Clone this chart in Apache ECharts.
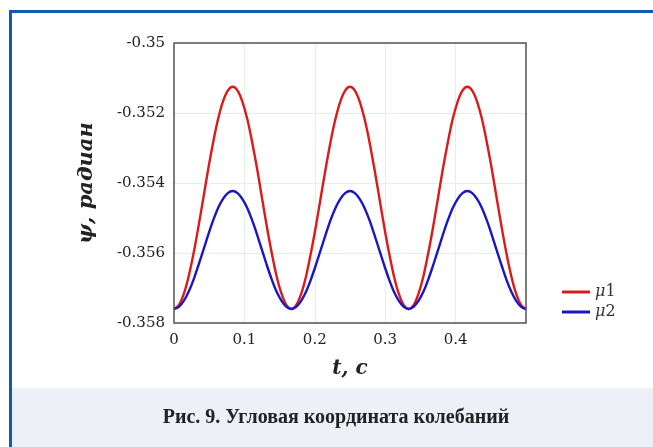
<!DOCTYPE html>
<html>
<head>
  <meta charset="UTF-8">
  <script src="https://cdn.jsdelivr.net/npm/echarts@6/dist/echarts.min.js"></script>
  <title></title>
  <style>
    html, body { margin: 0; padding: 0; background: #fff; }
    #chart { width: 653px; height: 447px; }
  </style>
</head>
<body>
  <div id="chart"></div>
  <script>
    // time, s
    var tValues = [0, 0.0069, 0.0139, 0.0208, 0.0278, 0.0347, 0.0417, 0.0486, 0.0556, 0.0625, 0.0694, 0.0764, 0.0833, 0.0903, 0.0972, 0.1042, 0.1111, 0.1181, 0.125, 0.1319, 0.1389, 0.1458, 0.1528, 0.1597, 0.1667,
      0.1736, 0.1806, 0.1875, 0.1944, 0.2014, 0.2083, 0.2153, 0.2222, 0.2292, 0.2361, 0.2431, 0.25, 0.2569, 0.2639, 0.2708, 0.2778, 0.2847, 0.2917, 0.2986, 0.3056, 0.3125, 0.3194, 0.3264, 0.3333,
      0.3403, 0.3472, 0.3542, 0.3611, 0.3681, 0.375, 0.3819, 0.3889, 0.3958, 0.4028, 0.4097, 0.4167, 0.4236, 0.4306, 0.4375, 0.4444, 0.4514, 0.4583, 0.4653, 0.4722, 0.4792, 0.4861, 0.4931, 0.5];
    // psi, rad
    var mu1 = [-0.35760, -0.35749, -0.35717, -0.35667, -0.35601, -0.35525, -0.35443, -0.35360, -0.35284, -0.35218, -0.35168, -0.35136,
      -0.35125, -0.35136, -0.35168, -0.35218, -0.35284, -0.35360, -0.35443, -0.35525, -0.35601, -0.35667, -0.35717, -0.35749,
      -0.35760, -0.35749, -0.35717, -0.35667, -0.35601, -0.35525, -0.35443, -0.35360, -0.35284, -0.35218, -0.35168, -0.35136,
      -0.35125, -0.35136, -0.35168, -0.35218, -0.35284, -0.35360, -0.35443, -0.35525, -0.35601, -0.35667, -0.35717, -0.35749,
      -0.35760, -0.35749, -0.35717, -0.35667, -0.35601, -0.35525, -0.35443, -0.35360, -0.35284, -0.35218, -0.35168, -0.35136,
      -0.35125, -0.35136, -0.35168, -0.35218, -0.35284, -0.35360, -0.35443, -0.35525, -0.35601, -0.35667, -0.35717, -0.35749,
      -0.35760];
    var mu2 = [-0.35760, -0.35754, -0.35737, -0.35711, -0.35676, -0.35635, -0.35592, -0.35548, -0.35507, -0.35472, -0.35446, -0.35429,
      -0.35423, -0.35429, -0.35446, -0.35472, -0.35507, -0.35548, -0.35592, -0.35635, -0.35676, -0.35711, -0.35737, -0.35754,
      -0.35760, -0.35754, -0.35737, -0.35711, -0.35676, -0.35635, -0.35592, -0.35548, -0.35507, -0.35472, -0.35446, -0.35429,
      -0.35423, -0.35429, -0.35446, -0.35472, -0.35507, -0.35548, -0.35592, -0.35635, -0.35676, -0.35711, -0.35737, -0.35754,
      -0.35760, -0.35754, -0.35737, -0.35711, -0.35676, -0.35635, -0.35592, -0.35548, -0.35507, -0.35472, -0.35446, -0.35429,
      -0.35423, -0.35429, -0.35446, -0.35472, -0.35507, -0.35548, -0.35592, -0.35635, -0.35676, -0.35711, -0.35737, -0.35754,
      -0.35760];
    var seriesNames = ['μ1', 'μ2'];
    var caption = 'Рис. 9. Угловая координата колебаний';

    function pairs(ys) {
      var out = [];
      for (var i = 0; i < tValues.length; i++) out.push([tValues[i], ys[i]]);
      return out;
    }

    var serif = 'DejaVu Serif';
    var chart = echarts.init(document.getElementById('chart'));
    chart.setOption({
      animation: false,
      backgroundColor: '#fff',
      graphic: [
        { type: 'rect', shape: { x: 12, y: 388, width: 641, height: 59 }, style: { fill: '#eef0f7' }, silent: true },
        { type: 'rect', shape: { x: 10.5, y: 11.5, width: 660, height: 460 }, style: { fill: null, stroke: '#0b5db3', lineWidth: 3 }, silent: true },
        { type: 'rect', z: 100, shape: { x: 174, y: 43, width: 352, height: 280 }, style: { fill: null, stroke: '#555', lineWidth: 1.5 }, silent: true },
        { type: 'text', x: 336, y: 418, style: { text: caption, fill: '#222', font: 'bold 20px "Liberation Serif"', align: 'center', verticalAlign: 'middle' } }
      ],
      grid: { left: 174, top: 43, right: 127, bottom: 124 },
      legend: {
        orient: 'vertical', left: 557, top: 279, itemWidth: 28, itemHeight: 3, itemGap: 4,
        icon: 'rect',
        data: seriesNames,
        formatter: function (n) { return '{i|μ}{n|' + n.slice(1) + '}'; },
        textStyle: {
          color: '#333', fontFamily: serif, fontSize: 16,
          rich: { i: { fontStyle: 'italic', fontFamily: serif, fontSize: 16, color: '#333' }, n: { fontFamily: serif, fontSize: 16, color: '#333' } }
        }
      },
      xAxis: {
        type: 'value', min: 0, max: 0.5, interval: 0.1,
        name: 't, c', nameLocation: 'middle', nameGap: 36,
        nameTextStyle: { fontFamily: serif, fontSize: 20, fontWeight: 'bold', fontStyle: 'italic', color: '#222' },
        axisLine: { show: false }, axisTick: { show: false },
        axisLabel: { showMaxLabel: false, fontFamily: serif, fontSize: 15, color: '#222', margin: 10 },
        splitLine: { show: true, lineStyle: { color: '#e2f2e2', width: 1 } }
      },
      yAxis: {
        type: 'value', min: -0.358, max: -0.35, interval: 0.002,
        name: 'ψ, радиан', nameLocation: 'middle', nameGap: 77, nameRotate: 90,
        nameTextStyle: { fontFamily: serif, fontSize: 21, fontWeight: 'bold', fontStyle: 'italic', color: '#222' },
        axisLine: { show: false }, axisTick: { show: false },
        axisLabel: { fontFamily: serif, fontSize: 15, color: '#222', margin: 9 },
        splitLine: { show: true, lineStyle: { color: '#e2f2e2', width: 1 } }
      },
      series: [
        { name: seriesNames[0], type: 'line', data: pairs(mu1), smooth: 0.3, showSymbol: false, symbol: 'none', lineStyle: { color: '#dd1a1a', width: 2.4 }, itemStyle: { color: '#dd1a1a' } },
        { name: seriesNames[1], type: 'line', data: pairs(mu2), smooth: 0.3, showSymbol: false, symbol: 'none', lineStyle: { color: '#1a16c4', width: 2.4 }, itemStyle: { color: '#1a16c4' } }
      ]
    });
  </script>
</body>
</html>
